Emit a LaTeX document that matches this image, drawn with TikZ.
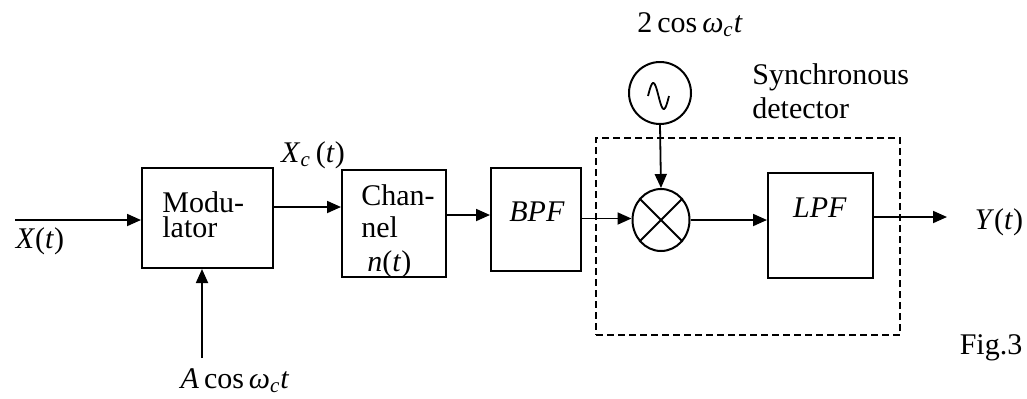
\documentclass[tikz,border=0pt]{standalone}
\usepackage{fontspec}
\setmainfont{Liberation Serif}
\usetikzlibrary{arrows.meta,shapes.geometric}
\tikzset{
  blk/.style={draw, line width=1pt, rectangle, inner sep=0pt},
  arr/.style={line width=0.9pt, -{Triangle[length=7pt,width=6pt]}},
  lbl/.style={inner sep=0pt, font=\fontsize{15}{17}\selectfont},
  dashbox/.style={line width=0.8pt, dash pattern=on 3.5pt off 2pt}
}
\begin{document}
\begin{tikzpicture}[x=0.5pt,y=-0.5pt]
\useasboundingbox (0,0) rectangle (1027,398);
% blocks
\node[blk, minimum width=65.5pt, minimum height=50pt] (mod) at (207.5,218) {};
\node[blk, minimum width=52pt, minimum height=53.5pt] (chan) at (394,223.5) {};
\node[blk, minimum width=45pt, minimum height=51.5pt] (bpf) at (536,219.5) {};
\node[blk, minimum width=52.5pt, minimum height=52.5pt] (lpf) at (820.5,225.5) {};
\node[draw, line width=1pt, circle, minimum size=31pt, inner sep=0pt] (osc) at (660,93) {};
\node[draw, line width=1pt, ellipse, minimum width=28.5pt, minimum height=31pt, inner sep=0pt] (mix) at (661,220) {};
\draw[line width=1pt] (mix.45) -- (mix.225) (mix.135) -- (mix.315);
% sine symbol
\draw[line width=0.9pt] plot[domain=0:1, samples=40] ({648+21*\x},{96-13*sin(360*\x)});
% dashed detector box
\node[dashbox, draw, rectangle, minimum width=152pt, minimum height=98.5pt, inner sep=0pt] (det) at (748,236.5) {};
% texts in blocks
\node[lbl, anchor=west, align=left, font=\fontsize{15}{12.5}\selectfont] (modt) at (162,215) {Modu-\\lator};
\node[lbl, anchor=west, align=left, font=\fontsize{15}{16}\selectfont] (chant) at (361,231) {Chan-\\nel\\[1pt]\hspace*{3pt}\textit{n}(\textit{t})};
\node[lbl] (bpft) at (537,212) {\textit{BPF}};
\node[lbl] (lpft) at (820,208) {\textit{LPF}};
% outer labels
\node[lbl] (xt) at (40,241) {\textit{X}(\textit{t})};
\node[lbl] (xct) at (313,155) {\textit{X}\textsubscript{\textit{c}}\,(\textit{t})};
\node[lbl] (acos) at (235,381) {\textit{A}\,cos\,\textit{ω}\textsubscript{\textit{c}}\textit{t}};
\node[lbl] (tcos) at (690,25) {2\,cos\,\textit{ω}\textsubscript{\textit{c}}\textit{t}};
\node[lbl, anchor=west, align=left] (sync) at (752,91) {Synchronous\\detector};
\node[lbl] (yt) at (999,222) {\textit{Y}(\textit{t})};
\node[lbl] (fig) at (991,348) {Fig.3};
% free ends
\coordinate (xin) at (15,220);
\coordinate (ain) at (202,358);
\coordinate (yout) at (947,217);
% connectors
\draw[arr] (xin) -- (xin -| mod.west);
\draw[arr] (ain) -- (ain |- mod.south);
\draw[arr] ([yshift=5.5pt]mod.east) -- ([yshift=5.5pt]mod.east -| chan.west);
\draw[arr] ([yshift=4.25pt]chan.east) -- ([yshift=4.25pt]chan.east -| bpf.west);
\draw[arr] ([yshift=0.5pt]bpf.east) -- ([yshift=0.5pt]bpf.east -| mix.west);
\draw[arr] (osc.south) -- (mix.north);
\draw[arr] (mix.east) -- (mix.east -| lpf.west);
\draw[arr] ([yshift=4.25pt]lpf.east) -- (yout);
\end{tikzpicture}
\end{document}
